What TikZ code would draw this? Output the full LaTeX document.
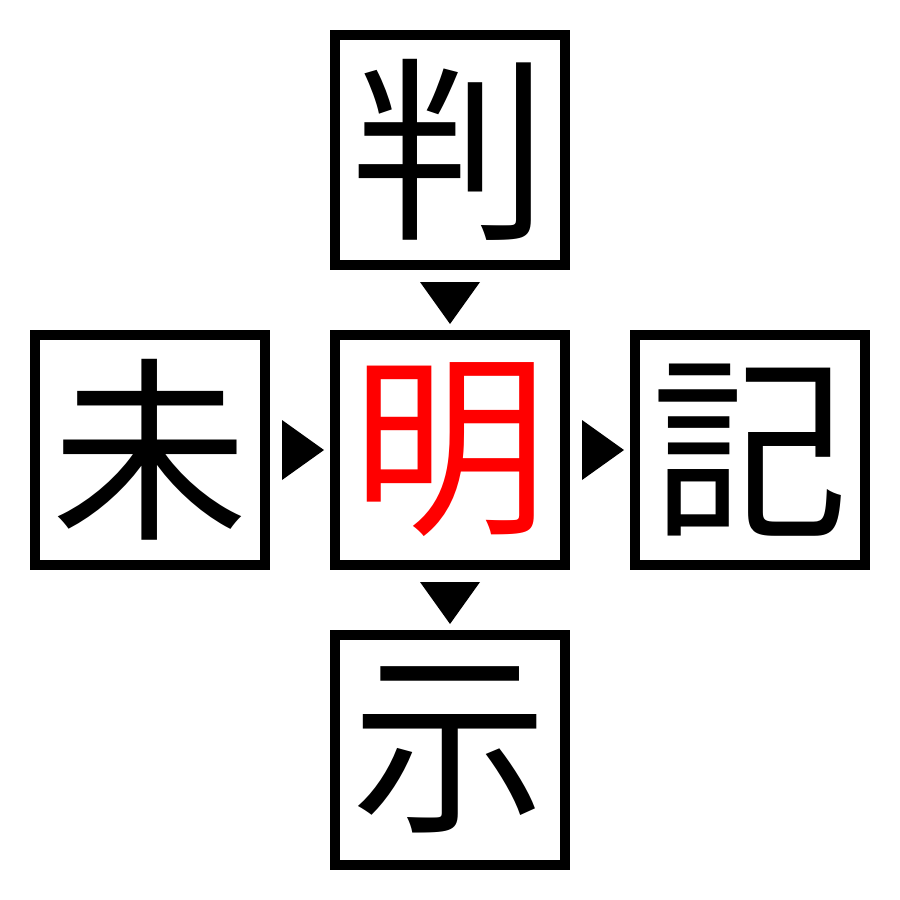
\documentclass[tikz,border=0pt]{standalone}
\usepackage{fontspec}
\usetikzlibrary{calc}
\newfontfamily\cjk{Noto Sans CJK JP}
\begin{document}
\begin{tikzpicture}[x=0.01cm,y=-0.01cm,
  box/.style={draw=black,line width=0.1cm,minimum size=2.3cm,inner sep=0pt,font=\cjk\fontsize{56}{56}\selectfont},
  tri/.style={fill=black,draw=none}]
\useasboundingbox (0,0) rectangle (900,900);
\node[box] (top) at (450,150) {判};
\node[box] (left) at (150,450) {未};
\node[box,text=red] (mid) at (450,450) {明};
\node[box] (right) at (750,450) {記};
\node[box] (bot) at (450,750) {示};
\coordinate (tv1) at ($(top.south)!0.5!(mid.north)+(0,3)$);
\coordinate (tv2) at ($(mid.south)!0.5!(bot.north)+(0,3)$);
\coordinate (th1) at ($(left.east)!0.5!(mid.west)+(3,0)$);
\coordinate (th2) at ($(mid.east)!0.5!(right.west)+(3,0)$);
\foreach \c in {tv1,tv2}
  \fill[tri] ($(\c)+(-30,-21)$) -- ($(\c)+(30,-21)$) -- ($(\c)+(0,21)$) -- cycle;
\foreach \c in {th1,th2}
  \fill[tri] ($(\c)+(-21,-30)$) -- ($(\c)+(-21,30)$) -- ($(\c)+(21,0)$) -- cycle;
\end{tikzpicture}
\end{document}
